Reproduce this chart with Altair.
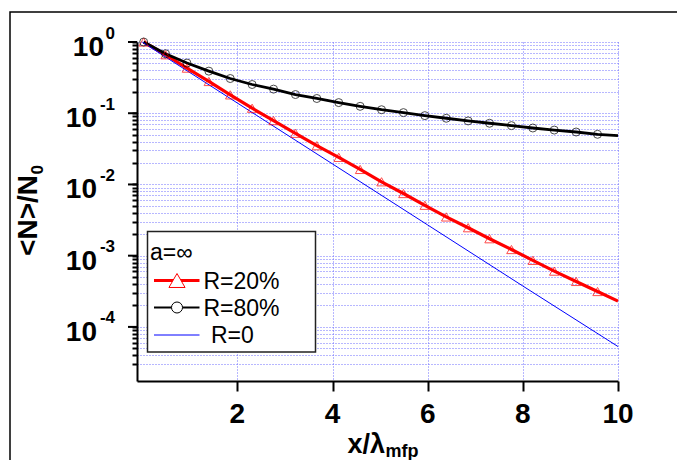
import altair as alt
import pandas as pd

# ---------------- data ----------------
x_pts = [0.03, 0.49, 0.94, 1.40, 1.85, 2.31, 2.76, 3.22, 3.67, 4.13, 4.58,
         5.03, 5.49, 5.94, 6.39, 6.85, 7.30, 7.76, 8.21, 8.66, 9.12, 9.57]
x_end = 10.0

r80_vals = [1.0, 0.684, 0.506, 0.390, 0.307, 0.253, 0.218, 0.183, 0.161, 0.141, 0.125,
            0.112, 0.102, 0.0925, 0.085, 0.078, 0.0723, 0.067, 0.062, 0.058, 0.0545, 0.0506]
r80_end = 0.0484

r20_vals = [1.0, 0.662, 0.430, 0.279, 0.181, 0.1175, 0.0787, 0.0523, 0.035, 0.024, 0.01625,
            0.0109, 0.00746, 0.0051, 0.0035, 0.00247, 0.00173, 0.00122, 0.00086, 0.000607,
            0.000435, 0.000314]
r20_end = 0.00023

r0_x = [0.0, 2.0, 4.0, 6.0, 8.0, 10.0]
r0_vals = [1.0, 0.139, 0.0194, 0.0027, 0.000375, 0.000053]

series_names = ["R=20%", "R=80%", "R=0"]
legend_title = "a=\u221e"
x_ticks = [2, 4, 6, 8, 10]
y_exponents = [0, -1, -2, -3, -4]

# ---------------- layout ----------------
W, H = 481, 339
PAD_L, PAD_T = 137, 42
FONT = "Liberation Sans"
RED, BLACK, BLUE = "#ff0000", "#000000", "#0000ff"
GRID = "#6e6eff"

df20 = pd.DataFrame({"x": x_pts + [x_end], "y": r20_vals + [r20_end]})
df80 = pd.DataFrame({"x": x_pts + [x_end], "y": r80_vals + [r80_end]})
df0 = pd.DataFrame({"x": r0_x, "y": r0_vals})
m20 = pd.DataFrame({"x": x_pts, "y": r20_vals})
m80 = pd.DataFrame({"x": x_pts, "y": r80_vals})

y_grid = [1.0]
for d in range(-5, 0):
    for m in range(1, 10):
        v = m * 10.0 ** d
        if v > 2.5e-5:
            y_grid.append(v)

xaxis = alt.Axis(values=x_ticks, labels=False, title=None, tickSize=10, tickWidth=2,
                 tickColor="black", domainColor="black", domainWidth=2,
                 grid=True, gridColor=GRID, gridDash=[1, 2], gridWidth=1)
yaxis = alt.Axis(values=y_grid, labels=False, title=None, tickSize=5, tickWidth=2,
                 tickColor="black", domainColor="black", domainWidth=2,
                 grid=True, gridColor=GRID, gridDash=[1, 2], gridWidth=1)

X = alt.X("x:Q", scale=alt.Scale(domain=[-0.11, 10], nice=False, zero=False), axis=xaxis)
Y = alt.Y("y:Q", scale=alt.Scale(type="log", domain=[1.74e-5, 1], nice=False), axis=yaxis)

layers = []

# outer frame
layers.append(alt.Chart(pd.DataFrame({"a": [0]})).mark_rect(
    fillOpacity=0, stroke="black", strokeWidth=1.5).encode(
    x=alt.value(10 - PAD_L), x2=alt.value(700 - PAD_L),
    y=alt.value(12 - PAD_T), y2=alt.value(480 - PAD_T)))

# lines
layers.append(alt.Chart(df20).mark_line(color=RED, strokeWidth=3.2).encode(x=X, y=Y))
layers.append(alt.Chart(df80).mark_line(color=BLACK, strokeWidth=2.8).encode(x=X, y=Y))
layers.append(alt.Chart(df0).mark_line(color=BLUE, strokeWidth=1).encode(x=X, y=Y))
# markers
layers.append(alt.Chart(m20).mark_point(shape="triangle-up", size=90, color=RED,
                                        strokeWidth=1, filled=False).encode(x=X, y=Y))
layers.append(alt.Chart(m80).mark_point(shape="circle", size=64, color=BLACK,
                                        strokeWidth=1, filled=False).encode(x=X, y=Y))

# major y ticks
majors = pd.DataFrame({"y": [10.0 ** e for e in y_exponents]})
layers.append(alt.Chart(majors).mark_rule(color="black", strokeWidth=2).encode(
    y=Y, x=alt.value(-9), x2=alt.value(0)))

# y tick labels 10^e
ylab = pd.DataFrame({"y": [10.0 ** e for e in y_exponents],
                     "base": ["10"] * len(y_exponents),
                     "exp": [str(e) for e in y_exponents],
                     "e": y_exponents})
layers.append(alt.Chart(ylab).mark_text(
    font=FONT, fontSize=28, fontWeight="bold", align="right", baseline="alphabetic", dy=14
).encode(y=Y, x=alt.value(-33), text="base:N").transform_filter("datum.e == 0"))
layers.append(alt.Chart(ylab).mark_text(
    font=FONT, fontSize=28, fontWeight="bold", align="right", baseline="alphabetic", dy=14
).encode(y=Y, x=alt.value(-40), text="base:N").transform_filter("datum.e != 0"))
layers.append(alt.Chart(ylab).mark_text(
    font=FONT, fontSize=17, fontWeight="bold", align="right", baseline="alphabetic", dy=-3.5
).encode(y=Y, x=alt.value(-22), text="exp:N"))

# x tick labels
xlab = pd.DataFrame({"x": x_ticks, "t": [str(v) for v in x_ticks]})
layers.append(alt.Chart(xlab).mark_text(
    font=FONT, fontSize=28, fontWeight="bold", align="center", baseline="alphabetic"
).encode(x=X, y=alt.value(H + 41.5), text="t:N"))

# axis titles
one = pd.DataFrame({"a": [0]})
layers.append(alt.Chart(one).mark_text(
    text="x/\u03bb", font=FONT, fontSize=27, fontWeight="bold", align="right", baseline="alphabetic"
).encode(x=alt.value(385 - PAD_L), y=alt.value(453 - PAD_T)))
layers.append(alt.Chart(one).mark_text(
    text="mfp", font=FONT, fontSize=18, fontWeight="bold", align="left", baseline="alphabetic"
).encode(x=alt.value(385.5 - PAD_L), y=alt.value(456.5 - PAD_T)))
layers.append(alt.Chart(one).mark_text(
    text="<N>/N", font=FONT, fontSize=28, fontWeight="bold", angle=270, align="right",
    baseline="alphabetic"
).encode(x=alt.value(37 - PAD_L), y=alt.value(175 - PAD_T)))
layers.append(alt.Chart(one).mark_text(
    text="0", font=FONT, fontSize=17, fontWeight="bold", angle=270, align="left",
    baseline="alphabetic"
).encode(x=alt.value(42.5 - PAD_L), y=alt.value(174.5 - PAD_T)))

# legend box
layers.append(alt.Chart(one).mark_rect(fill="white", stroke="#222222", strokeWidth=1.5).encode(
    x=alt.value(147.5 - PAD_L), x2=alt.value(315.5 - PAD_L),
    y=alt.value(231.5 - PAD_T), y2=alt.value(352 - PAD_T)))
layers.append(alt.Chart(one).mark_text(
    text=legend_title, font=FONT, fontSize=23, align="left", baseline="alphabetic"
).encode(x=alt.value(150 - PAD_L), y=alt.value(259.5 - PAD_T)))

row_y = [280.5, 307.5, 335]
row_text_x = [203.5, 203.5, 211]
line_styles = [(RED, 3), (BLACK, 2), (BLUE, 1)]
markers = [("triangle-up", 260), ("circle", 121), None]
for i, name in enumerate(series_names):
    col, sw = line_styles[i]
    cy = row_y[i] - PAD_T
    layers.append(alt.Chart(one).mark_rule(color=col, strokeWidth=sw).encode(
        x=alt.value(154 - PAD_L), x2=alt.value(199.5 - PAD_L), y=alt.value(cy)))
    if markers[i] is not None:
        shp, sz = markers[i]
        layers.append(alt.Chart(one).mark_point(shape=shp, size=sz, color=col, filled=True,
                                                fill="white", stroke=col, strokeWidth=1,
                                                opacity=1).encode(
            x=alt.value(177 - PAD_L), y=alt.value(cy)))
    layers.append(alt.Chart(one).mark_text(
        text=name, font=FONT, fontSize=23, align="left", baseline="alphabetic"
    ).encode(x=alt.value(row_text_x[i] - PAD_L), y=alt.value(cy + 8)))

chart = alt.layer(*layers).properties(
    width=W, height=H,
    autosize=alt.AutoSizeParams(type="none"),
    padding={"left": PAD_L, "top": PAD_T, "right": 677 - PAD_L - W, "bottom": 460 - PAD_T - H},
    background="white",
).configure_view(stroke=None)

chart.save("out.html", embed_options={"renderer": "svg", "actions": False})
